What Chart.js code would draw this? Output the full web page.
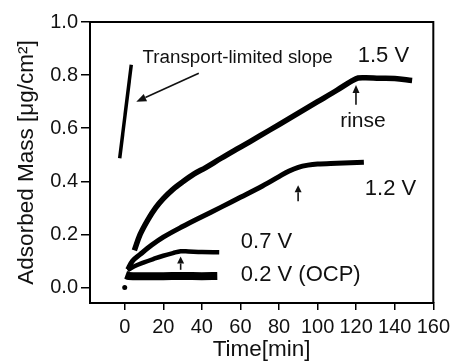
<!DOCTYPE html>
<html>
<head>
<meta charset="utf-8">
<script src="https://cdn.jsdelivr.net/npm/chart.js@4.4.1/dist/chart.umd.min.js"></script>
<style>
  html, body { margin: 0; padding: 0; background: #fff; }
  #wrap { width: 455px; height: 363px; }
</style>
</head>
<body>
<div id="wrap"><canvas id="c" width="455" height="363"></canvas></div>
<script>
// ---- data ----
const xTicks = [0, 20, 40, 60, 80, 100, 120, 140, 160];
const yTicks = [0.0, 0.2, 0.4, 0.6, 0.8, 1.0];

const t15 = [5, 8, 12, 16, 20, 25, 30, 36, 42, 50, 60, 70, 80, 90, 100, 110, 118, 121, 125, 132, 140, 149];
const m15 = [0.14, 0.2, 0.255, 0.3, 0.335, 0.37, 0.398, 0.428, 0.452, 0.487, 0.529, 0.571, 0.614, 0.657, 0.7, 0.743, 0.779, 0.789, 0.79, 0.788, 0.787, 0.78];

const t12 = [1.5, 4, 8, 14, 20, 30, 40, 50, 60, 70, 80, 85, 90, 95, 100, 110, 124];
const m12 = [0.068, 0.1, 0.125, 0.16, 0.19, 0.23, 0.267, 0.303, 0.34, 0.377, 0.418, 0.438, 0.453, 0.461, 0.465, 0.468, 0.472];

const t07 = [1.5, 5, 10, 15, 20, 25, 29, 33, 40, 49];
const m07 = [0.065, 0.08, 0.095, 0.108, 0.12, 0.13, 0.137, 0.136, 0.134, 0.133];

const tOcp = [0.5, 2, 10, 20, 30, 40, 48];
const mOcp = [0.048, 0.044, 0.043, 0.043, 0.044, 0.043, 0.044];

const tSlope = [-2.6, 3.4];
const mSlope = [0.487, 0.839];

const tOrigin = [0];
const mOrigin = [0];

// annotation texts (data coordinates of text baseline-left)
const labels = [
  { text: 'Transport-limited slope', t: 9.2, m: 0.845, size: 18.8 },
  { text: '1.5 V', t: 120.8, m: 0.851, size: 22 },
  { text: 'rinse', t: 111.7, m: 0.606, size: 21 },
  { text: '1.2 V', t: 124.5, m: 0.349, size: 22 },
  { text: '0.7 V', t: 60.2, m: 0.148, size: 22 },
  { text: '0.2 V (OCP)', t: 60.2, m: 0.025, size: 22 }
];
// arrows: from (t0,m0) to tip (t1,m1); hl/hw = head length / half width
const arrows = [
  { t0: 38.4, m0: 0.807, t1: 6.0, m1: 0.70, hl: 10, hw: 4 },
  { t0: 119.9, m0: 0.688, t1: 119.9, m1: 0.763, hl: 8, hw: 3.5 },
  { t0: 89.9, m0: 0.325, t1: 89.9, m1: 0.385, hl: 7, hw: 3.5 },
  { t0: 29.0, m0: 0.067, t1: 29.0, m1: 0.117, hl: 7, hw: 3.5 }
];

const pts = (xs, ys) => xs.map((x, i) => ({ x: x, y: ys[i] }));

const FONT = "'Liberation Sans', Arial, sans-serif";

const annot = {
  id: 'annot',
  afterDatasetsDraw(chart) {
    const ctx = chart.ctx;
    const xs = chart.scales.x, ys = chart.scales.y;
    const area = chart.chartArea;
    ctx.save();
    ctx.strokeStyle = '#000';
    ctx.lineWidth = 2;
    ctx.beginPath();
    ctx.moveTo(area.left, area.top);
    ctx.lineTo(area.right, area.top);
    ctx.lineTo(area.right, area.bottom);
    ctx.stroke();
    ctx.fillStyle = '#111';
    ctx.textBaseline = 'alphabetic';
    ctx.textAlign = 'left';
    labels.forEach(l => {
      ctx.font = l.size + 'px ' + FONT;
      ctx.fillText(l.text, xs.getPixelForValue(l.t), ys.getPixelForValue(l.m));
    });
    arrows.forEach(a => {
      const x0 = xs.getPixelForValue(a.t0), y0 = ys.getPixelForValue(a.m0);
      const x1 = xs.getPixelForValue(a.t1), y1 = ys.getPixelForValue(a.m1);
      const ang = Math.atan2(y1 - y0, x1 - x0);
      const bx = x1 - a.hl * Math.cos(ang), by = y1 - a.hl * Math.sin(ang);
      ctx.strokeStyle = '#111';
      ctx.lineWidth = 1.6;
      ctx.beginPath();
      ctx.moveTo(x0, y0);
      ctx.lineTo(bx, by);
      ctx.stroke();
      ctx.fillStyle = '#111';
      ctx.beginPath();
      ctx.moveTo(x1, y1);
      ctx.lineTo(bx + a.hw * Math.sin(ang), by - a.hw * Math.cos(ang));
      ctx.lineTo(bx - a.hw * Math.sin(ang), by + a.hw * Math.cos(ang));
      ctx.closePath();
      ctx.fill();
    });
    ctx.restore();
  }
};

const lineDs = (data, w) => ({
  data: data, borderColor: '#000', backgroundColor: '#000', borderWidth: w,
  pointRadius: 0, fill: false, tension: 0.35, showLine: true, borderJoinStyle: 'round'
});

new Chart(document.getElementById('c'), {
  type: 'scatter',
  data: {
    datasets: [
      lineDs(pts(tOcp, mOcp), 8),
      Object.assign(lineDs(pts(tOcp, mOcp), 3.5), { borderColor: '#fff', borderDash: [3, 1.2] }),
      lineDs(pts(t07, m07), 4.5),
      lineDs(pts(t12, m12), 5),
      lineDs(pts(t15, m15), 5.5),
      Object.assign(lineDs(pts(tSlope, mSlope), 3.5), { tension: 0 }),
      { data: pts(tOrigin, mOrigin), showLine: false, pointRadius: 2.5, pointBackgroundColor: '#000', pointBorderWidth: 0 }
    ]
  },
  options: {
    responsive: false,
    animation: false,
    events: [],
    layout: { padding: { top: 22, right: 17, left: 0, bottom: 0 } },
    plugins: { legend: { display: false }, tooltip: { enabled: false } },
    scales: {
      x: {
        type: 'linear', min: -18, max: 160,
        afterBuildTicks: s => { s.ticks = xTicks.map(v => ({ value: v })); },
        afterFit: s => { s.height = 60; },
        grid: { drawOnChartArea: false, drawTicks: true, tickLength: 7, color: '#000', lineWidth: 1.5 },
        border: { display: true, color: '#000', width: 2 },
        ticks: { color: '#111', font: { family: FONT, size: 20 }, padding: 5, maxRotation: 0, autoSkip: false },
        title: { display: true, text: 'Time[min]', color: '#111', font: { family: FONT, size: 22.5 }, padding: { top: 0, bottom: 0 } }
      },
      y: {
        type: 'linear', min: -0.058, max: 1.0,
        afterBuildTicks: s => { s.ticks = yTicks.map(v => ({ value: v })); },
        afterFit: s => { s.width = 90; },
        grid: { drawOnChartArea: false, drawTicks: true, tickLength: 9, color: '#000', lineWidth: 1.5 },
        border: { display: true, color: '#000', width: 2 },
        ticks: { color: '#111', font: { family: FONT, size: 20 }, padding: 3, callback: v => Number(v).toFixed(1) },
        title: { display: true, text: 'Adsorbed Mass [μg/cm²]', color: '#111', font: { family: FONT, size: 22.5 }, padding: { top: 13.5, bottom: 0 } }
      }
    }
  },
  plugins: [annot]
});
</script>
</body>
</html>
